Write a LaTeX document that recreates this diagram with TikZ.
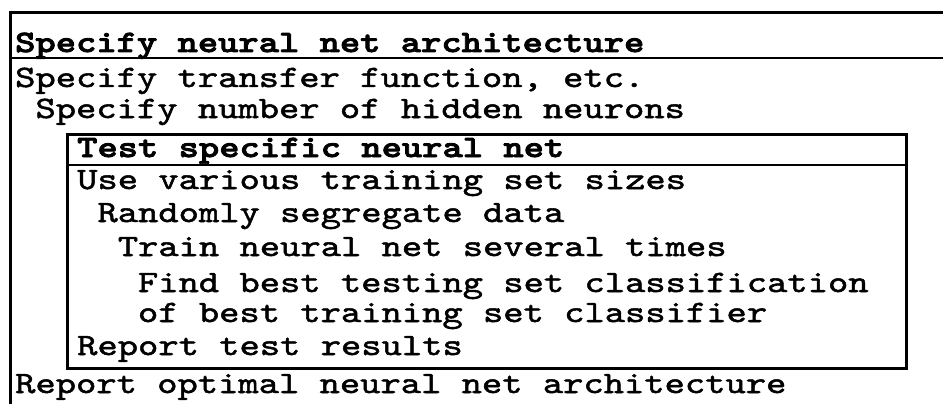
\documentclass[tikz,border=0pt]{standalone}
\usepackage{fontspec}
% typewriter face, widened to the pitch of the printout
\newfontfamily\typer{lmmono10-regular.otf}[
  FakeStretch=1.243, FakeBold=1.6,
  BoldFont=lmmonolt10-bold.otf, BoldFeatures={FakeBold=2.6}]
\begin{document}
\begin{tikzpicture}[x=1pt,y=-1pt,
  frame/.style={line width=3pt},
  rule/.style={line width=2.6pt},
  entry/.style={anchor=base west,inner sep=0pt,
    font=\typer\fontsize{31.1}{30}\selectfont},
  head/.style={entry,font=\typer\bfseries\fontsize{31.1}{30}\selectfont}]
\useasboundingbox (0,0) rectangle (943,404);
\fill[white] (0,0) rectangle (943,404);
\clip (0,0) rectangle (943,404);

% outer frame, open to the right and below
\draw[frame] (10.5,404) -- (10.5,12.5) -- (943,12.5);
\draw[rule] (10.5,58) -- (943,58);

% outer level
\node[head]  (arch)     at (15,52)    {Specify neural net architecture};
\node[entry] (transfer) at (15,87)    {Specify transfer function, etc.};
\node[entry] (hidden)   at (35.3,118) {Specify number of hidden neurons};

% inner frame
\draw[frame] (67,134) rectangle (906.5,368);
\draw[rule] (67,165) -- (906.5,165);

\node[head]  (test)     at (77,157)    {Test specific neural net};
\node[entry] (sizes)    at (77,189)    {Use various training set sizes};
\node[entry] (segr)     at (97.3,222)  {Randomly segregate data};
\node[entry] (train)    at (117.6,256) {Train neural net several times};
\node[entry] (find)     at (137.8,292) {Find best testing set classification};
\node[entry] (ofbest)   at (137.8,322) {of best training set classifier};
\node[entry] (results)  at (77,355)    {Report test results};

\node[entry] (optimal)  at (15,393)    {Report optimal neural net architecture};
\end{tikzpicture}
\end{document}
